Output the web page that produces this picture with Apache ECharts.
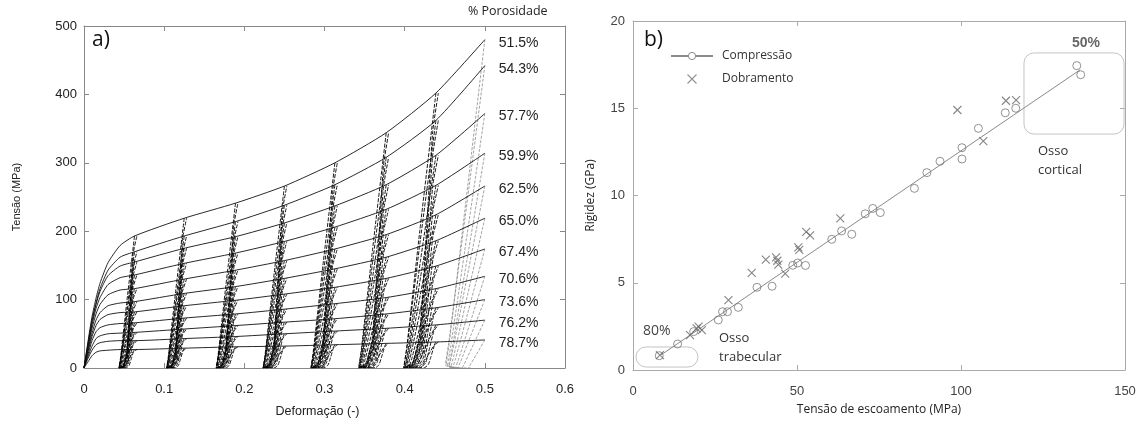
<!DOCTYPE html>
<html>
<head>
<meta charset="utf-8">
<script src="https://cdn.jsdelivr.net/npm/echarts@6/dist/echarts.min.js"></script>
<style>
  html, body { margin: 0; padding: 0; background: #fff; }
  #chart { width: 1143px; height: 423px; }
</style>
</head>
<body>
<div id="chart"></div>
<script>
// ---------- a) stress-strain curves of porous specimens ----------
// strains at which each specimen was unloaded and reloaded
const unloadStrains = [0.063, 0.125, 0.189, 0.25, 0.313, 0.377, 0.439];
const finalStrain = 0.5;
// strains sampled along the first loading branch
const riseStrains = [0, 0.005, 0.01, 0.015, 0.02, 0.03, 0.045];

const porosity = ['51.5%', '54.3%', '57.7%', '59.9%', '62.5%', '65.0%', '67.4%', '70.6%', '73.6%', '76.2%', '78.7%'];

// stress (MPa) on the first loading branch, at riseStrains
const rise515 = [0, 39, 75, 102, 124, 154, 179];
const rise543 = [0, 36, 70, 95, 116, 143, 162];
const rise577 = [0, 34, 67, 93, 112, 135, 149];
const rise599 = [0, 31, 63, 87, 103, 122, 132];
const rise625 = [0, 29, 58, 79, 93, 107, 114];
const rise650 = [0, 26, 51, 70, 81, 91, 95];
const rise674 = [0, 24, 46, 62, 71, 78, 81];
const rise706 = [0, 20, 40, 53, 59, 63, 65];
const rise736 = [0, 17, 32, 43, 47, 50, 51];
const rise762 = [0, 14, 26, 34, 37, 39, 40];
const rise787 = [0, 9, 18, 23, 25, 26, 27];

// stress (MPa) at each unloading strain; the last value is at strain 0.5
const peak515 = [193, 219, 241, 266, 300, 344, 402, 480];
const peak543 = [170, 193, 214, 238, 268, 308, 362, 442];
const peak577 = [155, 175, 192, 212, 237, 268, 311, 372];
const peak599 = [136, 153, 168, 185, 206, 232, 267, 314];
const peak625 = [116, 130, 143, 157, 174, 195, 224, 266];
const peak650 = [97, 109, 119, 131, 145, 162, 186, 219];
const peak674 = [82, 91, 99, 108, 118, 131, 149, 174];
const peak706 = [66, 73, 79, 86, 94, 103, 116, 134];
const peak736 = [52, 57, 62, 67, 72, 79, 88, 100];
const peak762 = [40, 43, 46, 50, 54, 58, 63, 70];
const peak787 = [27, 29, 31, 32, 34, 36, 38, 41];

// unloading modulus of each specimen (MPa)
const unloadModulus = [10000, 9000, 8000, 7000, 6000, 5200, 4400, 3700, 3000, 2500, 2000];

const riseCurves = [rise515, rise543, rise577, rise599, rise625, rise650, rise674, rise706, rise736, rise762, rise787];
const peakCurves = [peak515, peak543, peak577, peak599, peak625, peak650, peak674, peak706, peak736, peak762, peak787];

// ---------- b) stiffness vs. yield strength ----------
const compressao = [
  [8.0, 0.82], [13.6, 1.49], [18.5, 2.2], [26.0, 2.87], [27.3, 3.34], [28.8, 3.34], [32.1, 3.59],
  [37.8, 4.74], [42.4, 4.8], [48.7, 6.0], [50.2, 6.13], [52.6, 5.99], [60.6, 7.49], [63.6, 7.97],
  [66.7, 7.78], [70.8, 8.95], [73.1, 9.26], [75.4, 9.02], [85.8, 10.41], [89.6, 11.31], [93.6, 11.96],
  [100.3, 12.09], [100.3, 12.74], [105.3, 13.85], [113.5, 14.74], [116.7, 15.0], [135.3, 17.44], [136.5, 16.92]
];
const dobramento = [
  [8.2, 0.85], [17.4, 2.0], [19.4, 2.39], [20.0, 2.48], [21.0, 2.29], [29.1, 4.01], [36.2, 5.56],
  [40.5, 6.32], [43.6, 6.46], [44.0, 6.26], [44.3, 6.04], [46.4, 5.52], [50.4, 7.03], [50.7, 6.88],
  [52.8, 7.92], [54.0, 7.72], [63.2, 8.69], [98.9, 14.9], [106.8, 13.12], [113.7, 15.43], [116.8, 15.47]
];
// fitted trend line through the compression results
const fitLine = [[8.5, 0.86], [136.3, 17.2]];
// highlighted regions [xMin, yMin, xMax, yMax]
const regionBoxes = [[0.9, 0.17, 19.8, 1.32], [119.2, 13.52, 149.7, 18.17]];

// ---------- build the loading / unloading paths ----------
function envelope(i) {
  const pts = riseStrains.map((e, j) => [e, riseCurves[i][j]]);
  unloadStrains.forEach((e, k) => pts.push([e, peakCurves[i][k]]));
  pts.push([finalStrain, peakCurves[i][7]]);
  return pts;
}
function loops(i) {
  const pts = [];
  unloadStrains.forEach((eu, k) => {
    const s = peakCurves[i][k];
    const d = s / unloadModulus[i];
    pts.push([eu, s], [eu - 0.5 * d, 0.5 * s], [eu - 0.9 * d, 0.08 * s], [eu - d, 0],
             [eu - 0.72 * d, 0.02 * s], [eu - 0.5 * d, 0.13 * s], [eu - 0.32 * d, 0.45 * s],
             [eu - 0.1 * d, 0.86 * s], [eu + 0.003, s], ['-', '-']);
  });
  return pts;
}
function finalUnload(i) {
  const s = peakCurves[i][7];
  const d = s / unloadModulus[i];
  return [[finalStrain, s], [finalStrain - 0.5 * d, 0.5 * s], [finalStrain - 0.92 * d, 0.08 * s],
          [finalStrain - d, 0.01 * s], [finalStrain - 0.8 * d, 0]];
}

const leftSeries = [];
porosity.forEach((p, i) => {
  leftSeries.push({
    type: 'line', xAxisIndex: 0, yAxisIndex: 0, data: envelope(i),
    symbol: 'none', smooth: 0.2, silent: true, z: 4,
    lineStyle: { color: '#111', width: 0.9 },
    endLabel: { show: true, formatter: p, distance: 14, offset: [0, 3],
                color: '#222', fontSize: 14, fontFamily: 'Liberation Sans' }
  });
  leftSeries.push({
    type: 'line', xAxisIndex: 0, yAxisIndex: 0, data: loops(i),
    symbol: 'none', smooth: 0.15, connectNulls: false, silent: true, z: 3,
    lineStyle: { color: '#000', width: 0.9, type: [4, 1.5] }
  });
  leftSeries.push({
    type: 'line', xAxisIndex: 0, yAxisIndex: 0, data: finalUnload(i),
    symbol: 'none', smooth: 0.2, silent: true, z: 2,
    lineStyle: { color: '#8c8c8c', width: 0.8, type: [3, 1.5] }
  });
});

const crossPath = 'path://M0,0L10,10M10,0L0,10';

const rightSeries = [
  {
    name: 'Compressão', type: 'line', xAxisIndex: 2, yAxisIndex: 2, data: fitLine,
    symbol: 'circle', showSymbol: false, silent: true, z: 2,
    lineStyle: { color: '#8a8a8a', width: 1 },
    itemStyle: { color: '#8a8a8a' }
  },
  {
    name: 'Compressão', type: 'scatter', xAxisIndex: 2, yAxisIndex: 2, data: compressao,
    symbol: 'circle', symbolSize: 8, silent: true, z: 3,
    itemStyle: { color: 'rgba(255,255,255,0)', borderColor: '#777', borderWidth: 1 }
  },
  {
    name: 'Dobramento', type: 'scatter', xAxisIndex: 2, yAxisIndex: 2, data: dobramento,
    symbol: crossPath, symbolSize: 8, silent: true, z: 3,
    itemStyle: { color: 'rgba(255,255,255,0)', borderColor: '#666', borderWidth: 1.1 }
  },
  {
    type: 'custom', xAxisIndex: 2, yAxisIndex: 2, data: regionBoxes, silent: true, z: 1,
    encode: { x: [0, 2], y: [1, 3] },
    renderItem: (params, api) => {
      const a = api.coord([api.value(0), api.value(3)]);
      const b = api.coord([api.value(2), api.value(1)]);
      return {
        type: 'rect',
        shape: { x: a[0], y: a[1], width: b[0] - a[0], height: b[1] - a[1], r: 10 },
        style: { fill: 'none', stroke: '#c4c4c4', lineWidth: 1 }
      };
    }
  }
];

const leftTick = { fontFamily: 'Liberation Sans', fontSize: 13, color: '#222' };
const rightTick = { fontFamily: 'Liberation Sans', fontSize: 13, color: '#444' };

function frameAxis(grid, pos, min, max, interval, color) {
  return {
    gridIndex: grid, type: 'value', position: pos, min, max, interval,
    axisLine: { show: true, onZero: false, lineStyle: { color, width: 1 } },
    axisTick: { show: true, inside: true, length: 5, lineStyle: { color } },
    axisLabel: { show: false }, splitLine: { show: false }
  };
}

const chart = echarts.init(document.getElementById('chart'), null, { renderer: 'canvas' });
chart.setOption({
  animation: false,
  backgroundColor: '#fff',
  grid: [
    { left: 84, top: 26, width: 481, height: 344 },
    { left: 633, top: 21, width: 492, height: 349 }
  ],
  xAxis: [
    {
      gridIndex: 0, type: 'value', min: 0, max: 0.6, interval: 0.1, position: 'bottom',
      name: 'Deformação (-)', nameLocation: 'middle', nameGap: 37,
      nameTextStyle: { fontFamily: 'Liberation Sans', fontSize: 12.5, color: '#222', padding: [0, 14, 0, 0] },
      axisLine: { show: true, onZero: false, lineStyle: { color: '#888' } },
      axisTick: { show: true, inside: true, length: 5, lineStyle: { color: '#888' } },
      axisLabel: Object.assign({ margin: 15, formatter: v => (v === 0 ? '0' : v.toFixed(1)) }, leftTick),
      splitLine: { show: false }
    },
    frameAxis(0, 'top', 0, 0.6, 0.1, '#888'),
    {
      gridIndex: 1, type: 'value', min: 0, max: 150, interval: 50, position: 'bottom',
      name: 'Tensão de escoamento (MPa)', nameLocation: 'middle', nameGap: 34,
      nameTextStyle: { fontFamily: 'Open Sans', fontSize: 12, color: '#222' },
      axisLine: { show: true, onZero: false, lineStyle: { color: '#aaa' } },
      axisTick: { show: true, inside: true, length: 5, lineStyle: { color: '#aaa' } },
      axisLabel: Object.assign({ margin: 15 }, rightTick),
      splitLine: { show: false }
    },
    frameAxis(1, 'top', 0, 150, 50, '#aaa')
  ],
  yAxis: [
    {
      gridIndex: 0, type: 'value', min: 0, max: 500, interval: 100, position: 'left',
      name: 'Tensão (MPa)', nameLocation: 'middle', nameGap: 62,
      nameTextStyle: { fontFamily: 'Liberation Sans', fontSize: 11, color: '#222' },
      axisLine: { show: true, onZero: false, lineStyle: { color: '#888' } },
      axisTick: { show: true, inside: true, length: 5, lineStyle: { color: '#888' } },
      axisLabel: Object.assign({ margin: 7 }, leftTick),
      splitLine: { show: false }
    },
    frameAxis(0, 'right', 0, 500, 100, '#888'),
    {
      gridIndex: 1, type: 'value', min: 0, max: 20, interval: 5, position: 'left',
      name: 'Rigidez (GPa)', nameLocation: 'middle', nameGap: 36,
      nameTextStyle: { fontFamily: 'Open Sans', fontSize: 12, color: '#222' },
      axisLine: { show: true, onZero: false, lineStyle: { color: '#aaa' } },
      axisTick: { show: true, inside: true, length: 5, lineStyle: { color: '#aaa' } },
      axisLabel: Object.assign({ margin: 8 }, rightTick),
      splitLine: { show: false }
    },
    frameAxis(1, 'right', 0, 20, 5, '#aaa')
  ],
  legend: {
    orient: 'vertical', left: 665, top: 45, itemWidth: 42, itemHeight: 9, itemGap: 11,
    selectedMode: false,
    data: [
      { name: 'Compressão', itemStyle: { color: '#fff', borderColor: '#8a8a8a', borderWidth: 1 } },
      { name: 'Dobramento', itemStyle: { color: 'rgba(255,255,255,0)', borderColor: '#777', borderWidth: 1.1 } }
    ],
    textStyle: { fontFamily: 'Open Sans', fontSize: 12, color: '#333', padding: [0, 0, 0, 4] }
  },
  graphic: [
    { type: 'text', left: 92, top: 30, style: { text: 'a)', font: '21px "Open Sans"', fill: '#111' } },
    { type: 'text', left: 644, top: 30, style: { text: 'b)', font: '21px "Open Sans"', fill: '#111' } },
    { type: 'text', left: 468, top: 5, style: { text: '% Porosidade', font: '12.5px "Open Sans"', fill: '#222' } },
    { type: 'text', left: 1072, top: 36, style: { text: '50%', font: 'bold 14px "Liberation Sans"', fill: '#666' } },
    { type: 'text', left: 643, top: 324, style: { text: '80%', font: '14px "Open Sans"', fill: '#444' } },
    { type: 'text', left: 1038, top: 142, style: { text: 'Osso\ncortical', font: '13px "Open Sans"', fill: '#333', lineHeight: 19 } },
    { type: 'text', left: 719, top: 329, style: { text: 'Osso\ntrabecular', font: '13px "Open Sans"', fill: '#333', lineHeight: 19 } }
  ],
  series: leftSeries.concat(rightSeries)
});
</script>
</body>
</html>
